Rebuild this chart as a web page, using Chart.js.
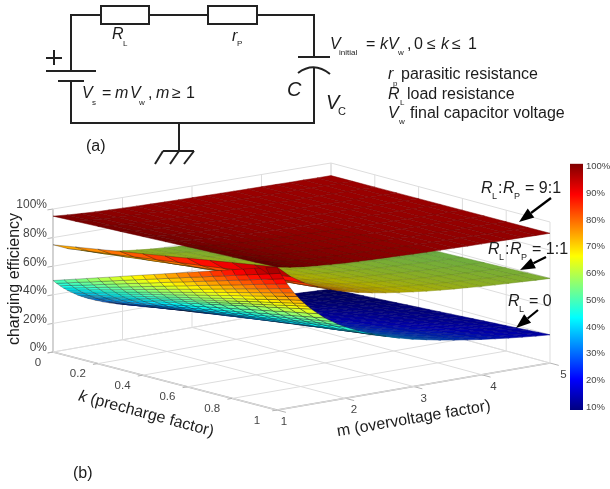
<!DOCTYPE html>
<html>
<head>
<meta charset="utf-8">
<style>
body { margin: 0; background: #fff; }
#wrap { position: relative; width: 610px; height: 489px; overflow: hidden; }
#main { position: absolute; left: 0; top: 0; filter: blur(0.35px); }
#bar { position: absolute; left: 570px; top: 155px; filter: blur(0.3px); }
</style>
<script src="https://cdn.jsdelivr.net/npm/chart.js@4"></script>
</head>
<body>
<div id="wrap">
<canvas id="main" width="610" height="489"></canvas>
<canvas id="bar" width="40" height="265"></canvas>
</div>
<script>
// =====================================
// Values
// =====================================

const kCoarse = [0, 0.1, 0.2, 0.3, 0.4, 0.5, 0.6, 0.7, 0.8, 0.9, 1];
const kFine = [0, 0.05, 0.1, 0.15, 0.2, 0.25, 0.3, 0.35, 0.4, 0.45, 0.5, 0.55, 0.6, 0.65, 0.7, 0.75, 0.8, 0.85, 0.9, 0.95, 1];
const mCoarse = [1, 1.2, 1.4, 1.6, 1.8, 2, 2.2, 2.4, 2.6, 2.8, 3, 3.2, 3.4, 3.6, 3.8, 4, 4.2, 4.4, 4.6, 4.8, 5];
const mFine = [1, 1.05, 1.1, 1.15, 1.2, 1.25, 1.3, 1.35, 1.4, 1.45, 1.5, 1.6, 1.7, 1.8, 1.9, 2, 2.2, 2.4, 2.6, 2.8, 3, 3.2, 3.4, 3.6, 3.8, 4, 4.2, 4.4, 4.6, 4.8, 5];

const kTicks = [0, 0.2, 0.4, 0.6, 0.8, 1];
const mTicks = [1, 2, 3, 4, 5];
const zTicks = [0, 20, 40, 60, 80, 100];

// one row per k (kFine), one column per m (mFine)
const effLoad0 = [
    [50,47.6,45.5,43.5,41.7,40,38.5,37,35.7,34.5,33.3,31.3,29.4,27.8,26.3,25,22.7,20.8,19.2,17.9,16.7,15.6,14.7,13.9,13.2,12.5,11.9,11.4,10.9,10.4,10],
    [52.5,50,47.8,45.7,43.8,42,40.4,38.9,37.5,36.2,35,32.9,30.9,29.2,27.6,26.3,23.9,21.9,20.2,18.8,17.5,16.4,15.4,14.6,13.8,13.1,12.5,12,11.4,10.9,10.5],
    [55,52.4,50,47.8,45.9,44,42.4,40.7,39.3,38,36.6,34.4,32.3,30.6,28.9,27.5,25,22.9,21.2,19.6,18.3,17.2,16.2,15.3,14.5,13.8,13.1,12.5,12,11.5,11],
    [57.5,54.7,52.3,50,48,46,44.3,42.6,41.1,39.7,38.3,36,33.8,32,30.2,28.8,26.1,24,22.1,20.5,19.2,18,16.9,16,15.1,14.4,13.7,13.1,12.5,12,11.5],
    [60,57.1,54.6,52.2,50,48,46.2,44.4,42.8,41.4,40,37.6,35.3,33.4,31.6,30,27.3,25,23.1,21.4,20,18.8,17.6,16.7,15.8,15,14.3,13.6,13,12.5,12],
    [62.5,59.5,56.9,54.4,52.1,50,48.1,46.3,44.6,43.1,41.6,39.1,36.8,34.8,32.9,31.3,28.4,26,24,22.3,20.8,19.5,18.4,17.4,16.4,15.6,14.9,14.2,13.6,13,12.5],
    [65,61.9,59.2,56.6,54.2,52,50.1,48.1,46.4,44.9,43.3,40.7,38.2,36.1,34.2,32.5,29.5,27.1,25,23.2,21.7,20.3,19.1,18.1,17.1,16.3,15.5,14.8,14.1,13.5,13],
    [67.5,64.3,61.4,58.7,56.3,54,52,50,48.2,46.6,45,42.3,39.7,37.5,35.5,33.8,30.7,28.1,26,24.1,22.5,21.1,19.9,18.8,17.8,16.9,16.1,15.3,14.7,14.1,13.5],
    [70,66.6,63.7,60.9,58.4,56,53.9,51.8,50,48.3,46.6,43.8,41.2,38.9,36.8,35,31.8,29.2,26.9,25,23.3,21.9,20.6,19.4,18.4,17.5,16.7,15.9,15.2,14.6,14],
    [72.5,69,66,63.1,60.5,58,55.8,53.7,51.8,50,48.3,45.4,42.6,40.3,38.1,36.3,33,30.2,27.9,25.9,24.2,22.7,21.3,20.1,19.1,18.1,17.3,16.5,15.8,15.1,14.5],
    [75,71.4,68.3,65.3,62.6,60,57.8,55.5,53.6,51.8,50,47,44.1,41.7,39.5,37.5,34.1,31.3,28.8,26.8,25,23.4,22.1,20.8,19.7,18.8,17.9,17,16.3,15.6,15],
    [77.5,73.8,70.5,67.4,64.6,62,59.7,57.4,55.3,53.5,51.6,48.5,45.6,43.1,40.8,38.8,35.2,32.3,29.8,27.7,25.8,24.2,22.8,21.5,20.4,19.4,18.5,17.6,16.8,16.1,15.5],
    [80,76.2,72.8,69.6,66.7,64,61.6,59.2,57.1,55.2,53.3,50.1,47,44.5,42.1,40,36.4,33.3,30.8,28.6,26.7,25,23.5,22.2,21.1,20,19,18.2,17.4,16.7,16],
    [82.5,78.5,75.1,71.8,68.8,66,63.5,61.1,58.9,56.9,55,51.6,48.5,45.9,43.4,41.3,37.5,34.4,31.7,29.5,27.5,25.8,24.3,22.9,21.7,20.6,19.6,18.8,17.9,17.2,16.5],
    [85,80.9,77.4,74,70.9,68,65.5,62.9,60.7,58.7,56.6,53.2,50,47.3,44.7,42.5,38.6,35.4,32.7,30.4,28.3,26.6,25,23.6,22.4,21.3,20.2,19.3,18.5,17.7,17],
    [87.5,83.3,79.6,76.1,73,70,67.4,64.8,62.5,60.4,58.3,54.8,51.5,48.7,46,43.8,39.8,36.5,33.7,31.3,29.2,27.3,25.7,24.3,23,21.9,20.8,19.9,19,18.2,17.5],
    [90,85.7,81.9,78.3,75.1,72,69.3,66.6,64.3,62.1,59.9,56.3,52.9,50,47.3,45,40.9,37.5,34.6,32.1,30,28.1,26.5,25,23.7,22.5,21.4,20.5,19.6,18.8,18],
    [92.5,88.1,84.2,80.5,77.1,74,71.2,68.5,66,63.8,61.6,57.9,54.4,51.4,48.7,46.3,42,38.5,35.6,33,30.8,28.9,27.2,25.7,24.3,23.1,22,21,20.1,19.3,18.5],
    [95,90.4,86.5,82.7,79.2,76,73.2,70.3,67.8,65.6,63.3,59.5,55.9,52.8,50,47.5,43.2,39.6,36.5,33.9,31.7,29.7,27.9,26.4,25,23.8,22.6,21.6,20.7,19.8,19],
    [97.5,92.8,88.7,84.8,81.3,78,75.1,72.2,69.6,67.3,64.9,61,57.3,54.2,51.3,48.8,44.3,40.6,37.5,34.8,32.5,30.5,28.7,27.1,25.7,24.4,23.2,22.2,21.2,20.3,19.5],
    [100,95.2,91,87,83.4,80,77,74,71.4,69,66.6,62.6,58.8,55.6,52.6,50,45.5,41.7,38.5,35.7,33.3,31.3,29.4,27.8,26.3,25,23.8,22.7,21.7,20.8,20]
];

// one row per k (kCoarse), one column per m (mCoarse)
const effLoad1 = [
    [75,70.8,67.9,65.6,63.9,62.5,61.4,60.4,59.6,58.9,58.3,57.8,57.4,56.9,56.6,56.3,56,55.7,55.4,55.2,55],
    [77.5,72.9,69.6,67.2,65.3,63.8,62.5,61.5,60.6,59.8,59.2,58.6,58.1,57.6,57.3,56.9,56.6,56.3,56,55.7,55.5],
    [80,75,71.4,68.8,66.7,65,63.6,62.5,61.5,60.7,60,59.4,58.8,58.3,57.9,57.5,57.1,56.8,56.5,56.3,56],
    [82.5,77.1,73.2,70.3,68,66.3,64.8,63.5,62.5,61.6,60.8,60.2,59.6,59,58.6,58.1,57.7,57.4,57.1,56.8,56.5],
    [85,79.2,75,71.9,69.4,67.5,65.9,64.6,63.5,62.5,61.7,60.9,60.3,59.7,59.2,58.8,58.3,57.9,57.6,57.3,57],
    [87.5,81.3,76.8,73.4,70.8,68.8,67,65.6,64.4,63.4,62.5,61.7,61,60.4,59.9,59.4,58.9,58.5,58.1,57.8,57.5],
    [90,83.3,78.6,75,72.2,70,68.2,66.7,65.4,64.3,63.3,62.5,61.8,61.1,60.5,60,59.5,59.1,58.7,58.3,58],
    [92.5,85.4,80.4,76.6,73.6,71.3,69.3,67.7,66.3,65.2,64.2,63.3,62.5,61.8,61.2,60.6,60.1,59.7,59.2,58.9,58.5],
    [95,87.5,82.1,78.1,75,72.5,70.5,68.8,67.3,66.1,65,64.1,63.2,62.5,61.8,61.3,60.7,60.2,59.8,59.4,59],
    [97.5,89.6,83.9,79.7,76.4,73.8,71.6,69.8,68.3,67,65.8,64.8,64,63.2,62.5,61.9,61.3,60.8,60.3,59.9,59.5],
    [100,91.7,85.7,81.3,77.8,75,72.7,70.8,69.2,67.9,66.7,65.6,64.7,63.9,63.2,62.5,61.9,61.4,60.9,60.4,60]
];

const effLoad9 = [
    [95,94.2,93.6,93.1,92.8,92.5,92.3,92.1,91.9,91.8,91.7,91.6,91.5,91.4,91.3,91.3,91.2,91.1,91.1,91,91],
    [95.5,94.6,93.9,93.4,93.1,92.8,92.5,92.3,92.1,92,91.8,91.7,91.6,91.5,91.5,91.4,91.3,91.3,91.2,91.2,91.1],
    [96,95,94.3,93.8,93.3,93,92.7,92.5,92.3,92.1,92,91.9,91.8,91.7,91.6,91.5,91.4,91.4,91.3,91.3,91.2],
    [96.5,95.4,94.6,94.1,93.6,93.3,93,92.7,92.5,92.3,92.2,92,91.9,91.8,91.7,91.6,91.6,91.5,91.4,91.4,91.3],
    [97,95.8,95,94.4,93.9,93.5,93.2,92.9,92.7,92.5,92.3,92.2,92.1,91.9,91.8,91.8,91.7,91.6,91.5,91.5,91.4],
    [97.5,96.3,95.4,94.7,94.2,93.8,93.4,93.1,92.9,92.7,92.5,92.3,92.2,92.1,92,91.9,91.8,91.7,91.6,91.6,91.5],
    [98,96.7,95.7,95,94.4,94,93.6,93.3,93.1,92.9,92.7,92.5,92.4,92.2,92.1,92,91.9,91.8,91.7,91.7,91.6],
    [98.5,97.1,96.1,95.3,94.7,94.3,93.9,93.5,93.3,93,92.8,92.7,92.5,92.4,92.2,92.1,92,91.9,91.9,91.8,91.7],
    [99,97.5,96.4,95.6,95,94.5,94.1,93.8,93.5,93.2,93,92.8,92.7,92.5,92.4,92.3,92.1,92.1,92,91.9,91.8],
    [99.5,97.9,96.8,95.9,95.3,94.8,94.3,94,93.7,93.4,93.2,93,92.8,92.6,92.5,92.4,92.3,92.2,92.1,92,91.9],
    [100,98.3,97.1,96.3,95.6,95,94.6,94.2,93.9,93.6,93.3,93.1,92.9,92.8,92.6,92.5,92.4,92.3,92.2,92.1,92]
];

// =====================================
// 3D box projection and colour map
// =====================================

const FONT = '"Liberation Sans", Arial, sans-serif';
const INK = "#1c1c1c";
const TICK_INK = "#454545";

function project(k, m, z) {
    const v = (m - 1) / 4;
    const xl = 53 + (331 - 53) * v, yl = 352 + (303 - 352) * v;
    const xr = 277 + (550 - 277) * v, yr = 410 + (363 - 410) * v;
    const h = (143 + (140 - 143) * v) * (1 - k) + (143 + (141 - 143) * v) * k;
    return {
        x: xl + (xr - xl) * k,
        y: yl + (yr - yl) * k - h * z / 100
    };
}

// how close a point is to the viewer (elevation about 12 degrees)
function depth(k, m, z) {
    const floorY = project(k, m, 0).y;
    const lift = floorY - project(k, m, z).y;
    return 4.7 * floorY + 0.21 * lift;
}

const jetStops = [
    [0, 0, 0, 128],
    [0.125, 0, 0, 255],
    [0.375, 0, 255, 255],
    [0.625, 255, 255, 0],
    [0.875, 255, 0, 0],
    [1, 128, 0, 0]
];

function jet(eff, shade) {
    const t = Math.min(1, Math.max(0, (eff - 10) / 90));
    for (let i = 1; i < jetStops.length; i++) {
        if (t <= jetStops[i][0]) {
            const a = jetStops[i - 1], b = jetStops[i];
            const f = (t - a[0]) / (b[0] - a[0]);
            return "rgb(" + [1, 2, 3].map(c => Math.round((a[c] + (b[c] - a[c]) * f) * shade)).join(",") + ")";
        }
    }
    return "rgb(128,0,0)";
}

// =====================================
// Datasets
// =====================================

function buildQuads(grid, kList, mList) {
    const quads = [];
    for (let i = 0; i < kList.length - 1; i++) {
        for (let j = 0; j < mList.length - 1; j++) {
            const corners = [[i, j], [i + 1, j], [i + 1, j + 1], [i, j + 1], [i, j]];
            const pts = corners.map(c => project(kList[c[0]], mList[c[1]], grid[c[0]][c[1]]));
            const avg = (grid[i][j] + grid[i + 1][j] + grid[i + 1][j + 1] + grid[i][j + 1]) / 4;
            const kMid = (kList[i] + kList[i + 1]) / 2;
            const mMid = (mList[j] + mList[j + 1]) / 2;

            // seen from above the mesh is dense and dark, seen from below it is open and bright
            const cross = (pts[1].x - pts[0].x) * (pts[3].y - pts[0].y)
                - (pts[1].y - pts[0].y) * (pts[3].x - pts[0].x);
            const fromAbove = cross < 0;

            quads.push({
                d: depth(kMid, mMid, avg),
                data: pts,
                showLine: true,
                fill: "shape",
                tension: 0,
                pointRadius: 0,
                backgroundColor: jet(avg, fromAbove ? 0.68 : 1),
                borderColor: fromAbove ? jet(avg, 0.56) : "rgba(20,20,20,0.5)",
                borderWidth: fromAbove ? 0.5 : 0.55
            });
        }
    }
    return quads;
}

function gridLine(a, b, color, width) {
    return {
        data: [project(a[0], a[1], a[2]), project(b[0], b[1], b[2])],
        showLine: true,
        fill: false,
        pointRadius: 0,
        borderColor: color,
        borderWidth: width
    };
}

const GRID = "#dddddd";
const AXIS = "#b4b4b4";
const boxLines = [];

kTicks.forEach(k => {
    boxLines.push(gridLine([k, 1, 0], [k, 5, 0], GRID, 1));
    boxLines.push(gridLine([k, 5, 0], [k, 5, 100], GRID, 1));
    boxLines.push(gridLine([k, 0.93, 0], [k, 1, 0], AXIS, 1));
});
mTicks.forEach(m => {
    boxLines.push(gridLine([0, m, 0], [1, m, 0], GRID, 1));
    boxLines.push(gridLine([0, m, 0], [0, m, 100], GRID, 1));
    boxLines.push(gridLine([1.04, m, 0], [1, m, 0], AXIS, 1));
});
zTicks.forEach(z => {
    boxLines.push(gridLine([0, 1, z], [0, 5, z], GRID, 1));
    boxLines.push(gridLine([0, 5, z], [1, 5, z], GRID, 1));
    boxLines.push(gridLine([0, 0.92, z], [0, 1, z], AXIS, 1));
});
boxLines.push(gridLine([0, 1, 0], [1, 1, 0], AXIS, 1.3));
boxLines.push(gridLine([1, 1, 0], [1, 5, 0], AXIS, 1.3));
boxLines.push(gridLine([0, 1, 0], [0, 1, 100], "#c8c8c8", 2));

const quads = buildQuads(effLoad0, kFine, mFine)
    .concat(buildQuads(effLoad1, kCoarse, mCoarse))
    .concat(buildQuads(effLoad9, kCoarse, mCoarse));

// Chart.js paints the first dataset last, so nearest quads go first
quads.sort((a, b) => b.d - a.d);

// =====================================
// Text and circuit drawing
// =====================================

function put(ctx, text, x, y, size, italic, color) {
    ctx.font = (italic ? "italic " : "") + size + "px " + FONT;
    ctx.fillStyle = color || INK;
    ctx.fillText(text, x, y);
}

function seg(ctx, pts) {
    ctx.beginPath();
    pts.forEach((p, i) => i ? ctx.lineTo(p[0], p[1]) : ctx.moveTo(p[0], p[1]));
    ctx.stroke();
}

function arrow(ctx, x1, y1, x2, y2) {
    const a = Math.atan2(y2 - y1, x2 - x1);
    const bx = x2 - 15 * Math.cos(a), by = y2 - 15 * Math.sin(a);
    ctx.strokeStyle = "#000";
    ctx.lineWidth = 2.2;
    seg(ctx, [[x1, y1], [bx, by]]);
    ctx.fillStyle = "#000";
    ctx.beginPath();
    ctx.moveTo(x2, y2);
    ctx.lineTo(bx + 5.5 * Math.sin(a), by - 5.5 * Math.cos(a));
    ctx.lineTo(bx - 5.5 * Math.sin(a), by + 5.5 * Math.cos(a));
    ctx.closePath();
    ctx.fill();
}

function drawCircuit(ctx) {
    ctx.strokeStyle = "#222";
    ctx.lineWidth = 2;
    ctx.lineCap = "butt";
    seg(ctx, [[71, 71], [71, 15], [101, 15]]);
    seg(ctx, [[149, 15], [208, 15]]);
    seg(ctx, [[257, 15], [314, 15], [314, 57]]);
    ctx.strokeRect(101, 6, 48, 18);
    ctx.strokeRect(208, 6, 49, 18);
    seg(ctx, [[46, 71], [96, 71]]);
    seg(ctx, [[58, 81], [84, 81]]);
    seg(ctx, [[71, 81], [71, 123], [314, 123], [314, 67]]);
    seg(ctx, [[298, 57], [330, 57]]);
    ctx.beginPath();
    ctx.moveTo(298, 73);
    ctx.quadraticCurveTo(314, 61, 330, 74);
    ctx.stroke();
    seg(ctx, [[46, 58], [62, 58]]);
    seg(ctx, [[54, 50], [54, 65]]);
    seg(ctx, [[179, 123], [179, 151]]);
    seg(ctx, [[163, 151], [194, 151]]);
    seg(ctx, [[163, 151], [155, 164]]);
    seg(ctx, [[179, 151], [170, 164]]);
    seg(ctx, [[194, 151], [184, 164]]);

    ctx.textAlign = "left";
    ctx.textBaseline = "middle";
    put(ctx, "R", 112, 35, 16, true);
    put(ctx, "L", 123, 44, 8);
    put(ctx, "r", 232, 37, 16, true);
    put(ctx, "P", 237, 44, 8);

    put(ctx, "V", 82, 94, 16, true);
    put(ctx, "s", 92, 103, 8);
    put(ctx, "=", 102, 94, 16);
    put(ctx, "m", 115, 94, 16, true);
    put(ctx, "V", 130, 94, 16, true);
    put(ctx, "w", 139, 103, 8);
    put(ctx, ",", 148, 94, 16);
    put(ctx, "m", 156, 94, 16, true);
    put(ctx, "\u2265", 172, 94, 16);
    put(ctx, "1", 186, 94, 16);

    put(ctx, "V", 330, 45, 16, true);
    put(ctx, "initial", 339, 53, 8);
    put(ctx, "=", 366, 45, 16);
    put(ctx, "k", 380, 45, 16, true);
    put(ctx, "V", 388, 45, 16, true);
    put(ctx, "w", 398, 53, 8);
    put(ctx, ",", 407, 45, 16);
    put(ctx, "0", 414, 45, 16);
    put(ctx, "\u2264", 427, 45, 16);
    put(ctx, "k", 441, 45, 16, true);
    put(ctx, "\u2264", 452, 45, 16);
    put(ctx, "1", 468, 45, 16);

    put(ctx, "C", 287, 90, 20, true);
    put(ctx, "V", 326, 103, 20, true);
    put(ctx, "C", 338, 112, 11);

    put(ctx, "r", 388, 75, 16, true);
    put(ctx, "p", 393, 84, 8);
    put(ctx, "parasitic resistance", 401, 75, 16);
    put(ctx, "R", 388, 95, 16, true);
    put(ctx, "L", 400, 103, 8);
    put(ctx, "load resistance", 407, 95, 16);
    put(ctx, "V", 388, 114, 16, true);
    put(ctx, "w", 399, 122, 8);
    put(ctx, "final capacitor voltage", 410, 114, 16);

    put(ctx, "(a)", 86, 147, 16);
}

function drawAxisText(chart, ctx) {
    const sx = chart.scales.x, sy = chart.scales.y;
    const px = p => ({ x: sx.getPixelForValue(p.x), y: sy.getPixelForValue(p.y) });

    ctx.textBaseline = "middle";

    ctx.textAlign = "right";
    zTicks.forEach(z => {
        const p = px(project(0, 1, z));
        put(ctx, z + "%", p.x - 6, p.y - 4, 12, false, TICK_INK);
    });

    ctx.textAlign = "center";
    kTicks.forEach(k => {
        const p = px(project(k, 1, 0));
        put(ctx, String(k), p.x - (k === 0 ? 15 : 20), p.y + 10.5, 11.5, false, TICK_INK);
    });
    mTicks.forEach(m => {
        const p = px(project(1, m, 0));
        put(ctx, String(m), p.x + 7 + (m - 1) * 1.6, p.y + 12, 11.5, false, TICK_INK);
    });

    ctx.save();
    ctx.translate(15, 279);
    ctx.rotate(-Math.PI / 2);
    put(ctx, "charging efficiency", 0, 0, 16);
    ctx.restore();

    ctx.textAlign = "left";
    ctx.save();
    ctx.translate(79, 396);
    ctx.rotate(15 * Math.PI / 180);
    put(ctx, "k", 0, 0, 16, true);
    put(ctx, "(precharge factor)", 12, 0, 16);
    ctx.restore();

    ctx.save();
    ctx.translate(337, 432);
    ctx.rotate(-9.7 * Math.PI / 180);
    put(ctx, "m (overvoltage factor)", 0, 0, 16);
    ctx.restore();

    put(ctx, "(b)", 73, 474, 16);

    // series callouts
    put(ctx, "R", 481, 189, 16, true);
    put(ctx, "L", 492, 197, 9);
    put(ctx, ":", 498, 189, 16);
    put(ctx, "R", 503, 189, 16, true);
    put(ctx, "P", 514, 197, 9);
    put(ctx, "= 9:1", 525, 189, 16);
    arrow(ctx, 551, 198, 519, 222);

    put(ctx, "R", 488, 250, 16, true);
    put(ctx, "L", 499, 258, 9);
    put(ctx, ":", 505, 250, 16);
    put(ctx, "R", 510, 250, 16, true);
    put(ctx, "P", 521, 258, 9);
    put(ctx, "= 1:1", 532, 250, 16);
    arrow(ctx, 546, 257, 520, 270);

    put(ctx, "R", 508, 302, 16, true);
    put(ctx, "L", 519, 310, 9);
    put(ctx, "= 0", 529, 302, 16);
    arrow(ctx, 538, 310, 516, 328);
}

const annotations = {
    id: "annotations",
    afterDatasetsDraw(chart) {
        const ctx = chart.ctx;
        ctx.save();
        drawCircuit(ctx);
        drawAxisText(chart, ctx);
        ctx.restore();
    }
};

// =====================================
// Charts
// =====================================

const mainChart = new Chart(document.getElementById("main"), {
    type: "scatter",
    data: { datasets: quads.concat(boxLines) },
    options: {
        responsive: false,
        animation: false,
        events: [],
        layout: { padding: 0 },
        plugins: {
            legend: { display: false },
            tooltip: { enabled: false }
        },
        scales: {
            x: { type: "linear", min: 0, max: 610, display: false },
            y: { type: "linear", min: 0, max: 489, reverse: true, display: false }
        }
    },
    plugins: [annotations]
});

const colorbar = new Chart(document.getElementById("bar"), {
    type: "bar",
    data: {
        labels: [""],
        datasets: [{
            data: [[9, 101]],
            barPercentage: 1,
            categoryPercentage: 1,
            backgroundColor(ctx) {
                const area = ctx.chart.chartArea;
                if (!area) return "#000";
                const g = ctx.chart.ctx.createLinearGradient(0, area.bottom, 0, area.top);
                jetStops.forEach(s => g.addColorStop(s[0], "rgb(" + s[1] + "," + s[2] + "," + s[3] + ")"));
                return g;
            }
        }]
    },
    options: {
        responsive: false,
        animation: false,
        events: [],
        layout: { padding: { top: 8, bottom: 10, left: 0, right: 0 } },
        plugins: {
            legend: { display: false },
            tooltip: { enabled: false }
        },
        scales: {
            x: { display: false },
            y: {
                position: "right",
                min: 9,
                max: 101,
                afterFit(scale) { scale.width = 27; },
                afterBuildTicks(scale) {
                    scale.ticks = [10, 20, 30, 40, 50, 60, 70, 80, 90, 100].map(v => ({ value: v }));
                },
                border: { display: false },
                grid: { display: false, drawTicks: false, tickLength: 0 },
                ticks: {
                    padding: 3,
                    color: TICK_INK,
                    font: { size: 9.5, family: FONT },
                    callback: v => v + "%"
                }
            }
        }
    }
});
</script>
</body>
</html>
